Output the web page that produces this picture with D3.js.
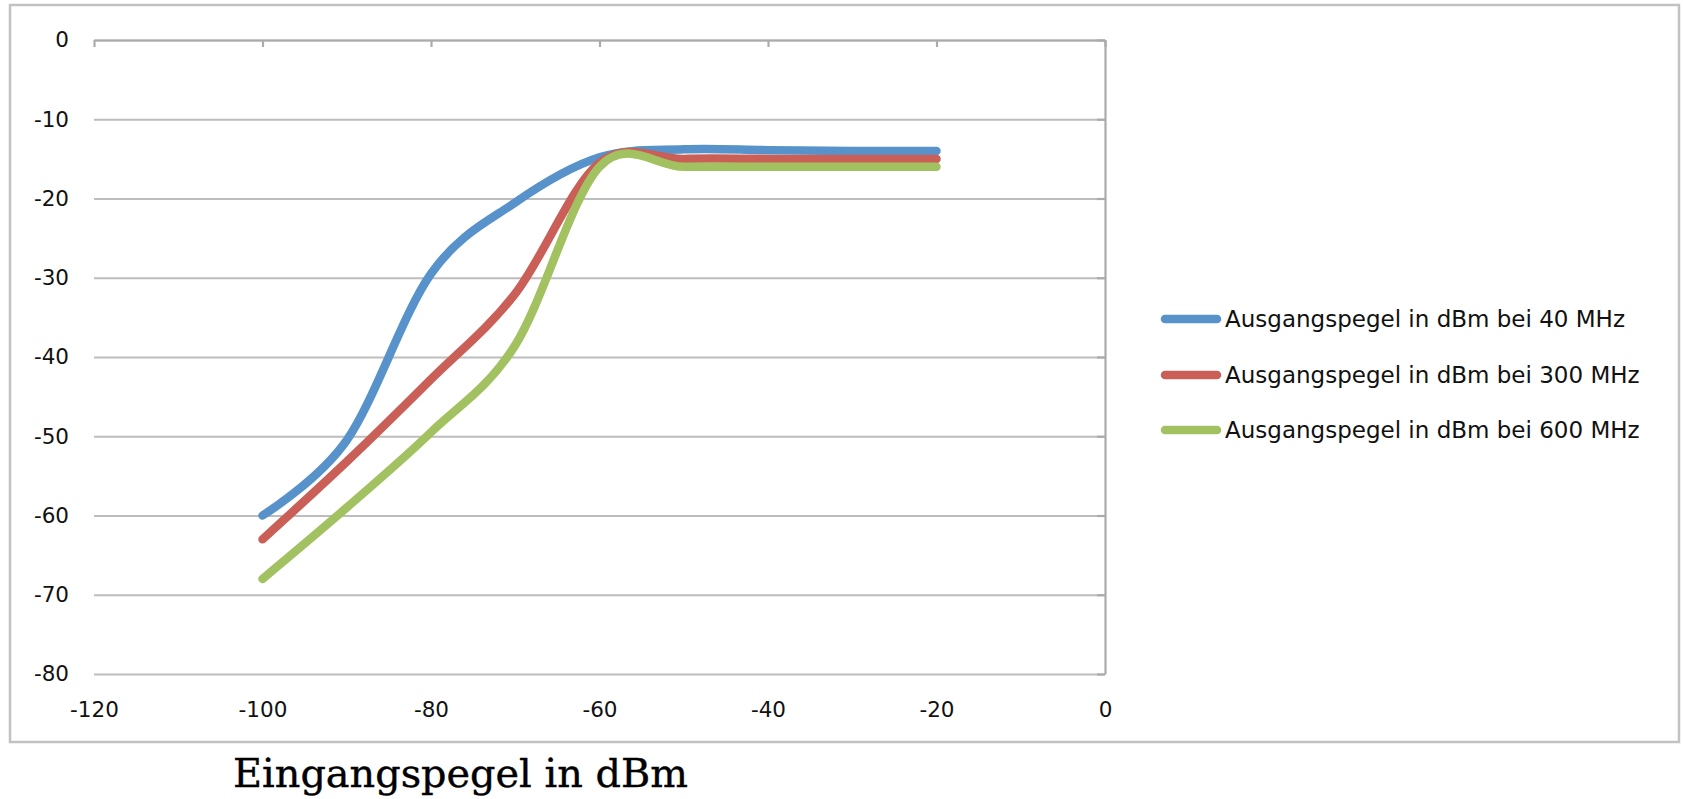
<!DOCTYPE html>
<html>
<head>
<meta charset="utf-8">
<script src="https://cdn.jsdelivr.net/npm/d3@7"></script>
<style>
  html, body { margin: 0; padding: 0; background: #fff; }
  svg { display: block; }
</style>
</head>
<body>
<svg id="chart" width="1683" height="799"></svg>
<script>
// ---- data ----
const xValues = [-100, -90, -80, -70, -60, -50, -40, -30, -20];
const series40MHz = [-60, -50.5, -29.5, -20.5, -14.8, -13.8, -13.9, -14, -14];
const series300MHz = [-63, -53.2, -42.8, -32, -15.5, -15, -15, -15, -15];
const series600MHz = [-68, -59, -49.5, -38.5, -16, -16, -16, -16, -16];
const seriesNames = [
  "Ausgangspegel in dBm bei 40 MHz",
  "Ausgangspegel in dBm bei 300 MHz",
  "Ausgangspegel in dBm bei 600 MHz"
];
const seriesColors = ["#5892CA", "#CA5F57", "#A2C160"];
const xTicks = [-120, -100, -80, -60, -40, -20, 0];
const yTicks = [0, -10, -20, -30, -40, -50, -60, -70, -80];
const xTitle = "Eingangspegel in dBm";

const allSeries = [series40MHz, series300MHz, series600MHz];

// ---- layout ----
const svg = d3.select("#chart");
const plot = { left: 94, right: 1105, top: 40, bottom: 674 };
const x = d3.scaleLinear().domain([-120, 0]).range([plot.left, plot.right]);
const y = d3.scaleLinear().domain([-80, 0]).range([plot.bottom, plot.top]);

const tickFont = "'DejaVu Sans', sans-serif";
const gridColor = "#bdbdbd";
const axisColor = "#ababab";
const hyphenFormat = d => String(d); // plain hyphen-minus like the reference

// outer chart border
svg.append("rect")
  .attr("x", 10).attr("y", 5)
  .attr("width", 1669).attr("height", 737)
  .attr("fill", "#fff")
  .attr("stroke", "#c2c2c2")
  .attr("stroke-width", 2.5);

// horizontal gridlines
const grid = svg.append("g")
  .attr("transform", `translate(${plot.left},0)`)
  .call(d3.axisLeft(y).tickValues(yTicks).tickSize(-(plot.right - plot.left)).tickFormat(""));
grid.select(".domain").remove();
grid.selectAll(".tick line").attr("stroke", gridColor).attr("stroke-width", 2.2);

// x axis line at y = 0 (top), ticks pointing down
const xAxisLine = svg.append("g")
  .attr("transform", `translate(0,${y(0)})`)
  .call(d3.axisBottom(x).tickValues(xTicks).tickSizeInner(7).tickSizeOuter(0).tickFormat(""));
xAxisLine.select(".domain").attr("stroke", axisColor).attr("stroke-width", 2.2);
xAxisLine.selectAll(".tick line").attr("stroke", axisColor).attr("stroke-width", 2.2);

// y axis line at x = 0 (right), ticks pointing left
const yAxisLine = svg.append("g")
  .attr("transform", `translate(${x(0)},0)`)
  .call(d3.axisLeft(y).tickValues(yTicks).tickSizeInner(8).tickSizeOuter(0).tickFormat(""));
yAxisLine.select(".domain").attr("stroke", axisColor).attr("stroke-width", 2.2);
yAxisLine.selectAll(".tick line").attr("stroke", axisColor).attr("stroke-width", 2.2);

// x tick labels (low position)
const xLabels = svg.append("g")
  .attr("transform", `translate(0,${plot.bottom})`)
  .call(d3.axisBottom(x).tickValues(xTicks).tickSize(0).tickPadding(28).tickFormat(hyphenFormat));
xLabels.select(".domain").remove();
xLabels.selectAll("text")
  .attr("font-family", tickFont).attr("font-size", 21.5).attr("fill", "#111");

// y tick labels (low position)
const yLabels = svg.append("g")
  .attr("transform", `translate(${plot.left},0)`)
  .call(d3.axisLeft(y).tickValues(yTicks).tickSize(0).tickPadding(25).tickFormat(hyphenFormat));
yLabels.select(".domain").remove();
yLabels.selectAll("text")
  .attr("font-family", tickFont).attr("font-size", 21.5).attr("fill", "#111");

// series
const line = d3.line()
  .x((d, i) => x(xValues[i]))
  .y(d => y(d))
  .curve(d3.curveCardinal.tension(0));

svg.append("g").selectAll("path")
  .data(allSeries)
  .join("path")
  .attr("d", d => line(d))
  .attr("fill", "none")
  .attr("stroke", (d, i) => seriesColors[i])
  .attr("stroke-width", 8.5)
  .attr("stroke-linecap", "round")
  .attr("stroke-linejoin", "round");

// legend
const legendRowY = [319, 375, 430];
const legend = svg.append("g");
const rows = legend.selectAll("g")
  .data(seriesNames)
  .join("g")
  .attr("transform", (d, i) => `translate(0,${legendRowY[i]})`);
rows.append("line")
  .attr("x1", 1165).attr("x2", 1217)
  .attr("y1", 0).attr("y2", 0)
  .attr("stroke", (d, i) => seriesColors[i])
  .attr("stroke-width", 8.5)
  .attr("stroke-linecap", "round");
rows.append("text")
  .attr("x", 1225).attr("y", 0).attr("dy", "0.36em")
  .attr("font-family", tickFont).attr("font-size", 23)
  .attr("fill", "#111")
  .text(d => d);

// axis title
const title = svg.append("text")
  .attr("x", 233).attr("y", 787)
  .attr("font-family", "'DejaVu Serif', serif")
  .attr("font-size", 36)
  .attr("fill", "#000")
  .attr("stroke", "#000")
  .attr("stroke-width", 0.4)
  .text(xTitle);
const w = title.node().getComputedTextLength();
title.attr("font-size", 36 * 455 / w);
</script>
</body>
</html>
